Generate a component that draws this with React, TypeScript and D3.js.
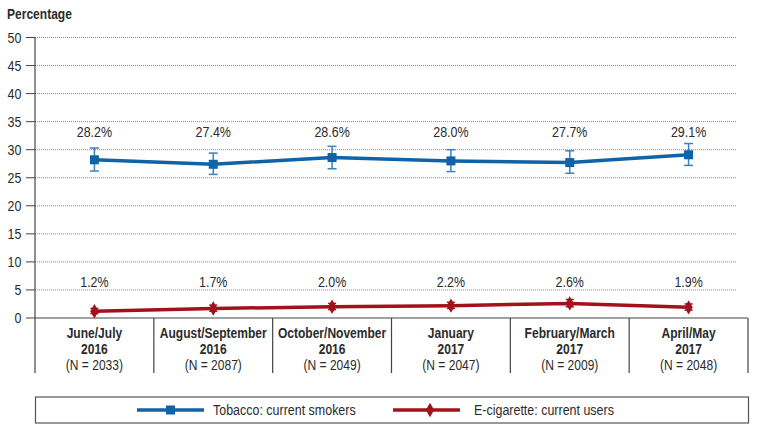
import React from "react";
import * as d3 from "d3";

const categories = ["June/July|2016|(N = 2033)", "August/September|2016|(N = 2087)", "October/November|2016|(N = 2049)", "January|2017|(N = 2047)", "February/March|2017|(N = 2009)", "April/May|2017|(N = 2048)"];
const tobacco = [28.2, 27.4, 28.6, 28.0, 27.7, 29.1];
const tobaccoLow = [26.2, 25.6, 26.6, 26.1, 25.8, 27.2];
const tobaccoHigh = [30.3, 29.4, 30.6, 30.0, 29.8, 31.1];
const ecig = [1.2, 1.7, 2.0, 2.2, 2.6, 1.9];
const ecigLow = [0.8, 1.2, 1.5, 1.7, 2.0, 1.4];
const ecigHigh = [1.7, 2.3, 2.6, 2.8, 3.3, 2.5];
const yTicks = [0, 5, 10, 15, 20, 25, 30, 35, 40, 45, 50];
const seriesNames = ["Tobacco: current smokers", "E-cigarette: current users"];

const FONT = "'Liberation Sans', Arial, sans-serif";
const BLUE = "#0f63a6";
const BLUE_ERR = "#3b82c0";
const RED = "#a3111c";
const TXT = "#2b2b2b";
const SX = 0.86;

function T({ x, y, children, anchor = "start", bold = false, size = 14, dy }: any) {
  return (
    <text transform={`translate(${x},${y}) scale(${SX},1)`} textAnchor={anchor} fontWeight={bold ? "bold" : "normal"} fontSize={size} fill={TXT} dy={dy}>
      {children}
    </text>
  );
}

export default function App() {
  const W = 757, H = 431;
  const x0 = 35, x1 = 748, yTop = 37.5, yBot = 318;
  const x = d3.scaleBand<number>().domain(d3.range(categories.length)).range([x0, x1]);
  const y = d3.scaleLinear().domain([0, 50]).range([yBot, yTop]);
  const cx = (i: number) => (x(i) as number) + x.bandwidth() / 2;
  const line = d3.line<number>().x((_, i) => cx(i)).y((v) => y(v));
  const diamond = d3.symbol().type(d3.symbolDiamond).size(60)();

  const errBars = (lo: number[], hi: number[], color: string, cap: number) =>
    lo.map((l, i) => (
      <g key={i} stroke={color} strokeWidth={1.5}>
        <line x1={cx(i)} x2={cx(i)} y1={y(l)} y2={y(hi[i])} />
        <line x1={cx(i) - cap} x2={cx(i) + cap} y1={y(l)} y2={y(l)} />
        <line x1={cx(i) - cap} x2={cx(i) + cap} y1={y(hi[i])} y2={y(hi[i])} />
      </g>
    ));

  return (
    <svg width={W} height={H} style={{ position: "absolute", left: 0, top: 0, background: "#fff" }} fontFamily={FONT}>
      <T x={7} y={19} bold size={14}>Percentage</T>
      {yTicks.map((t) => (
        <g key={t}>
          {t > 0 && <line x1={x0} x2={737} y1={y(t)} y2={y(t)} stroke="#888" strokeWidth={1} strokeDasharray="1,1" />}
          <line x1={x0 - 9} x2={x0} y1={y(t)} y2={y(t)} stroke="#444" strokeWidth={1} />
          <T x={21.5} y={y(t)} dy="0.35em" anchor="end" size={14.5}>{t}</T>
        </g>
      ))}
      <line x1={x0} x2={x0} y1={yTop} y2={373} stroke="#444" strokeWidth={1.2} />
      <line x1={x0} x2={x1} y1={yBot} y2={yBot} stroke="#444" strokeWidth={1.2} />
      {categories.map((c, i) => {
        const parts = c.split("|");
        const bx = (x(i) as number) + x.bandwidth();
        return (
          <g key={i}>
            <line x1={bx} x2={bx} y1={yBot} y2={373} stroke="#444" strokeWidth={1.2} />
            <T x={cx(i)} y={338} anchor="middle" bold>{parts[0]}</T>
            <T x={cx(i)} y={354} anchor="middle" bold>{parts[1]}</T>
            <T x={cx(i)} y={370} anchor="middle">{parts[2]}</T>
          </g>
        );
      })}
      {tobacco.map((v, i) => (
        <T key={"tl" + i} x={cx(i)} y={137} anchor="middle" size={14.5}>{v.toFixed(1)}%</T>
      ))}
      {ecig.map((v, i) => (
        <T key={"el" + i} x={cx(i)} y={287} anchor="middle" size={14.5}>{v.toFixed(1)}%</T>
      ))}
      {errBars(tobaccoLow, tobaccoHigh, BLUE_ERR, 4.5)}
      <path d={line(tobacco) as string} fill="none" stroke={BLUE} strokeWidth={3.5} />
      {tobacco.map((v, i) => (
        <rect key={"tm" + i} x={cx(i) - 4.5} y={y(v) - 4.5} width={9} height={9} fill={BLUE} />
      ))}
      {errBars(ecigLow, ecigHigh, RED, 4)}
      <path d={line(ecig) as string} fill="none" stroke={RED} strokeWidth={3.5} />
      {ecig.map((v, i) => (
        <path key={"em" + i} d={diamond as string} transform={`translate(${cx(i)},${y(v)})`} fill={RED} />
      ))}
      <rect x={35.5} y={397} width={713} height={26} fill="none" stroke="#555" strokeWidth={1.2} />
      <line x1={137} x2={204} y1={410} y2={410} stroke={BLUE} strokeWidth={3.5} />
      <rect x={170.5 - 4.5} y={405.5} width={9} height={9} fill={BLUE} />
      <T x={213} y={410} dy="0.35em" size={14.5}>{seriesNames[0]}</T>
      <line x1={393} x2={460} y1={410} y2={410} stroke={RED} strokeWidth={3.5} />
      <path d={diamond as string} transform="translate(430,410)" fill={RED} />
      <T x={474} y={410} dy="0.35em" size={14.5}>{seriesNames[1]}</T>
    </svg>
  );
}
